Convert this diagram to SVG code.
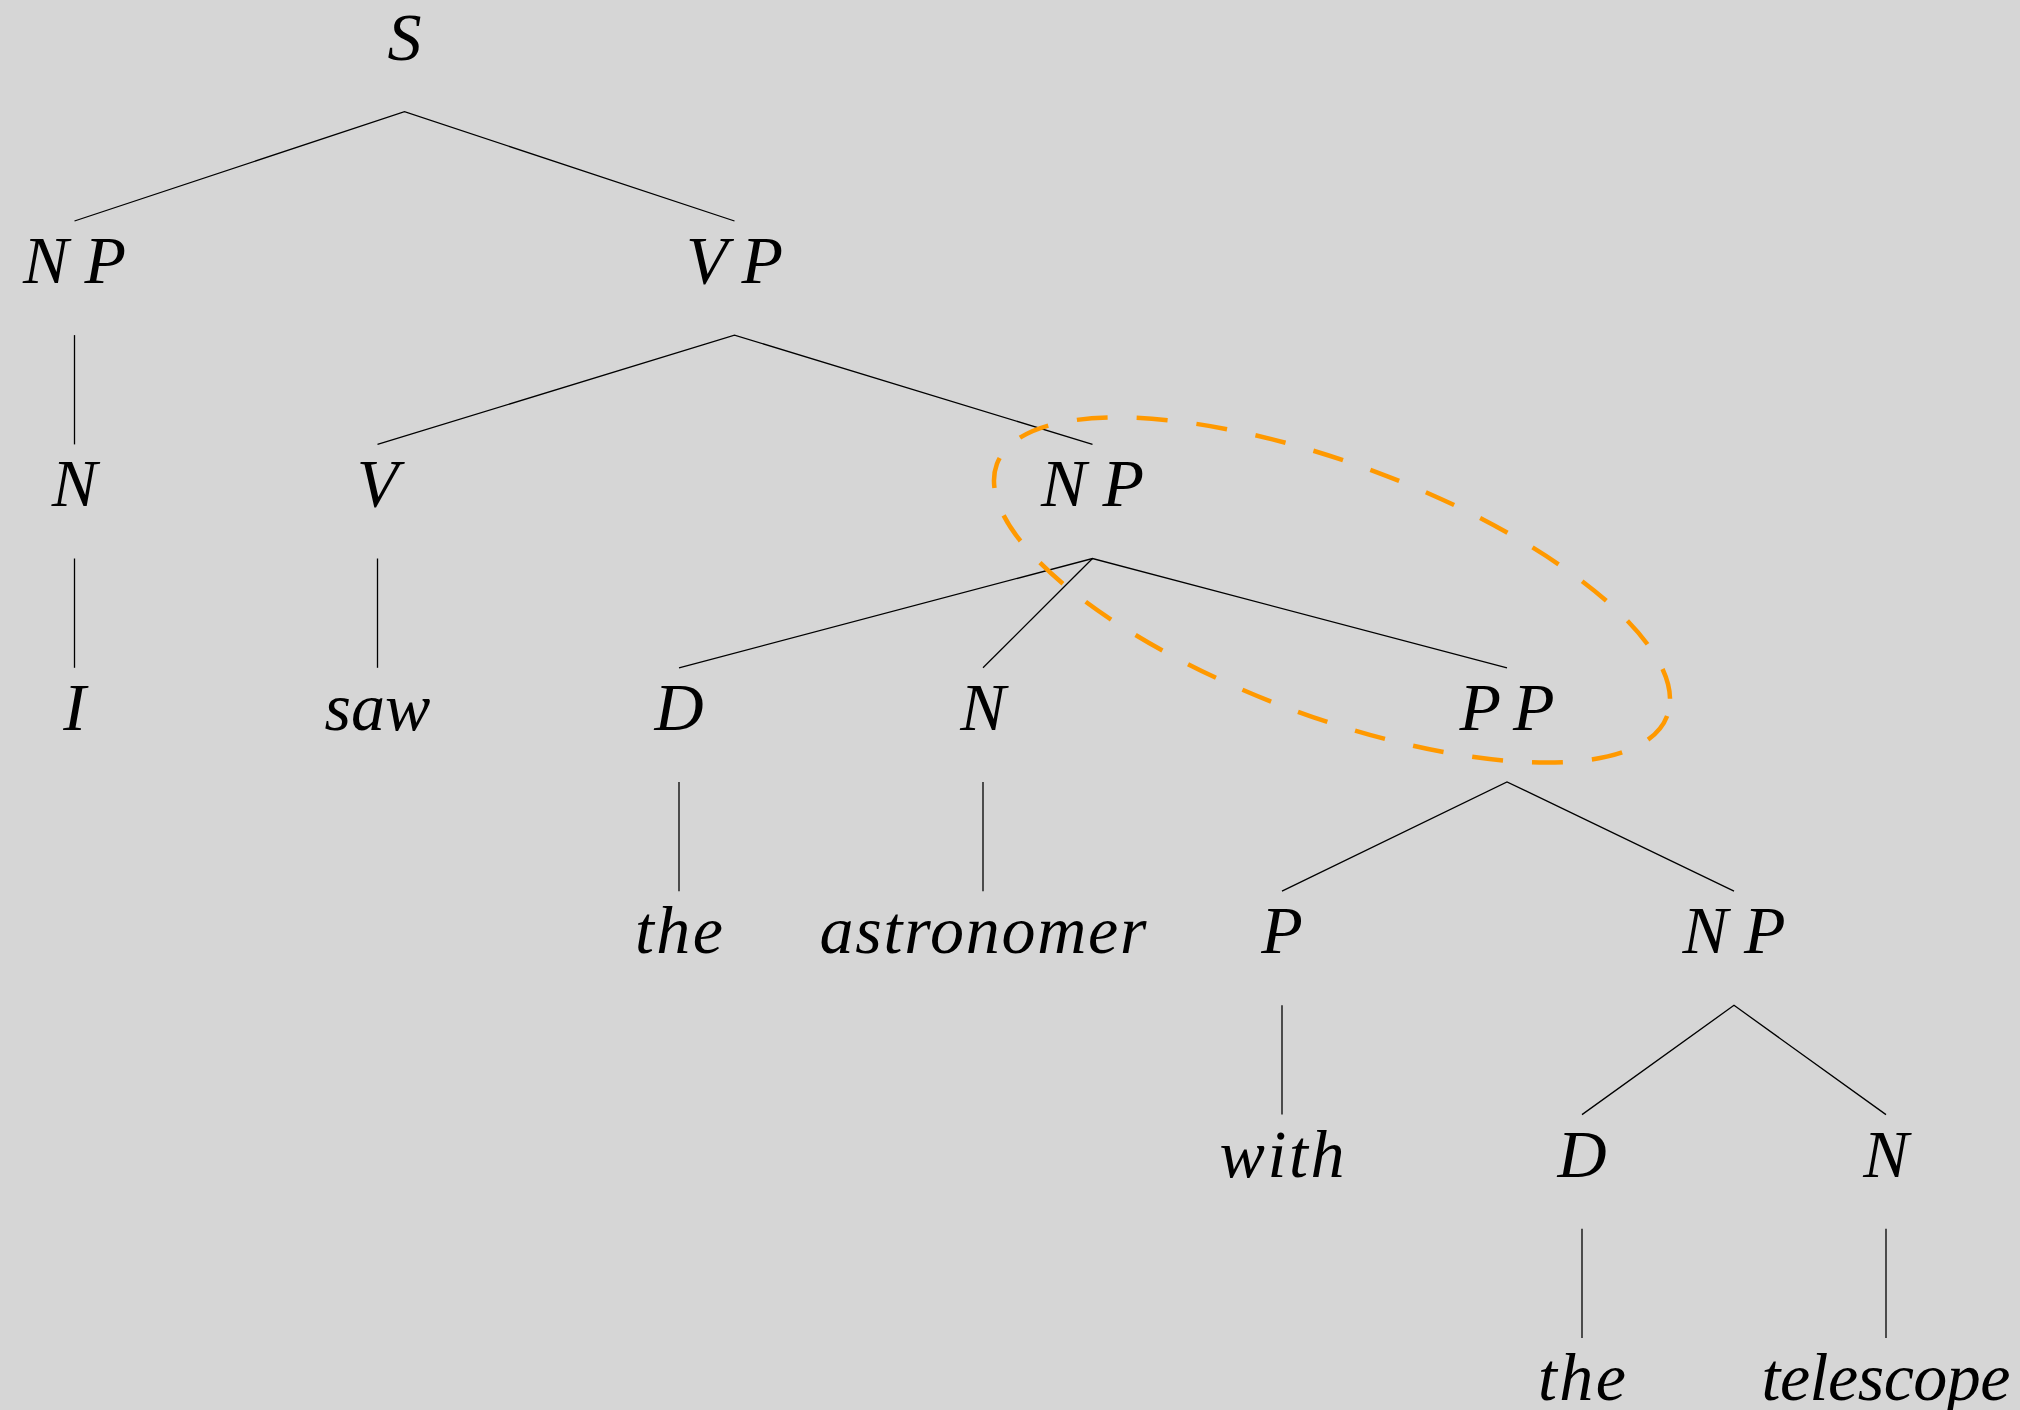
<svg xmlns="http://www.w3.org/2000/svg" width="2020" height="1410" viewBox="0 0 2020 1410">
<style>
.lbl{font-family:"Liberation Serif","Times New Roman",serif;font-style:italic;font-size:68px;fill:#000;text-anchor:middle}
.edge{stroke:#000;stroke-width:1.3;fill:none}
.hl{fill:none;stroke:#ff9900;stroke-width:4.5;stroke-dasharray:31 29}
</style>
<rect x="0" y="0" width="2020" height="1410" fill="#d6d6d6"/>
<g id="connectors">
<polyline class="edge" points="74.5,221 404.5,111.7 734.5,221"/>
<line class="edge" x1="74.5" y1="335.1" x2="74.5" y2="444.4"/>
<polyline class="edge" points="377.5,444.4 734.5,335.1 1092.5,444.4"/>
<line class="edge" x1="74.5" y1="558.5" x2="74.5" y2="667.8"/>
<line class="edge" x1="377.5" y1="558.5" x2="377.5" y2="667.8"/>
<polyline class="edge" points="679,667.8 1092.5,558.5 1507,667.8"/>
<line class="edge" x1="1092.5" y1="558.5" x2="983" y2="667.8"/>
<line class="edge" x1="679" y1="781.9" x2="679" y2="891.2"/>
<line class="edge" x1="983" y1="781.9" x2="983" y2="891.2"/>
<polyline class="edge" points="1282,891.2 1507,781.9 1734,891.2"/>
<line class="edge" x1="1282" y1="1005.3" x2="1282" y2="1114.6"/>
<polyline class="edge" points="1582,1114.6 1734,1005.3 1886,1114.6"/>
<line class="edge" x1="1582" y1="1228.7" x2="1582" y2="1338"/>
<line class="edge" x1="1886" y1="1228.7" x2="1886" y2="1338"/>
</g>
<g id="n-S"><text class="lbl" x="404.5" y="59.6">S</text></g>
<g id="n-NP1"><text class="lbl" x="74.5" y="283" textLength="103" lengthAdjust="spacing">NP</text></g>
<g id="n-VP"><text class="lbl" x="734.5" y="283" textLength="97" lengthAdjust="spacing">VP</text></g>
<g id="n-N1"><text class="lbl" x="74.5" y="506.4">N</text></g>
<g id="n-V"><text class="lbl" x="377.5" y="506.4">V</text></g>
<g id="n-NP2"><text class="lbl" x="1092.5" y="506.4" textLength="103" lengthAdjust="spacing">NP</text></g>
<g id="n-I"><text class="lbl" x="74.5" y="729.8">I</text></g>
<g id="n-saw"><text class="lbl" x="377.5" y="729.8">saw</text></g>
<g id="n-D1"><text class="lbl" x="679" y="729.8">D</text></g>
<g id="n-N2"><text class="lbl" x="983" y="729.8">N</text></g>
<g id="n-PP"><text class="lbl" x="1507" y="729.8" textLength="95" lengthAdjust="spacing">PP</text></g>
<g id="n-the1"><text class="lbl" x="679" y="953.2" textLength="88" lengthAdjust="spacing">the</text></g>
<g id="n-astronomer"><text class="lbl" x="983" y="953.2" textLength="327" lengthAdjust="spacing">astronomer</text></g>
<g id="n-P"><text class="lbl" x="1282" y="953.2">P</text></g>
<g id="n-NP3"><text class="lbl" x="1734" y="953.2" textLength="103" lengthAdjust="spacing">NP</text></g>
<g id="n-with"><text class="lbl" x="1282" y="1176.6" textLength="125" lengthAdjust="spacing">with</text></g>
<g id="n-D2"><text class="lbl" x="1582" y="1176.6">D</text></g>
<g id="n-N3"><text class="lbl" x="1886" y="1176.6">N</text></g>
<g id="n-the2"><text class="lbl" x="1582" y="1400" textLength="88" lengthAdjust="spacing">the</text></g>
<g id="n-telescope"><text class="lbl" x="1886" y="1400" textLength="249" lengthAdjust="spacing">telescope</text></g>
<g id="highlight"><ellipse class="hl" cx="1332" cy="590" rx="358" ry="126" transform="rotate(20.6 1332 590)"/></g>
</svg>
